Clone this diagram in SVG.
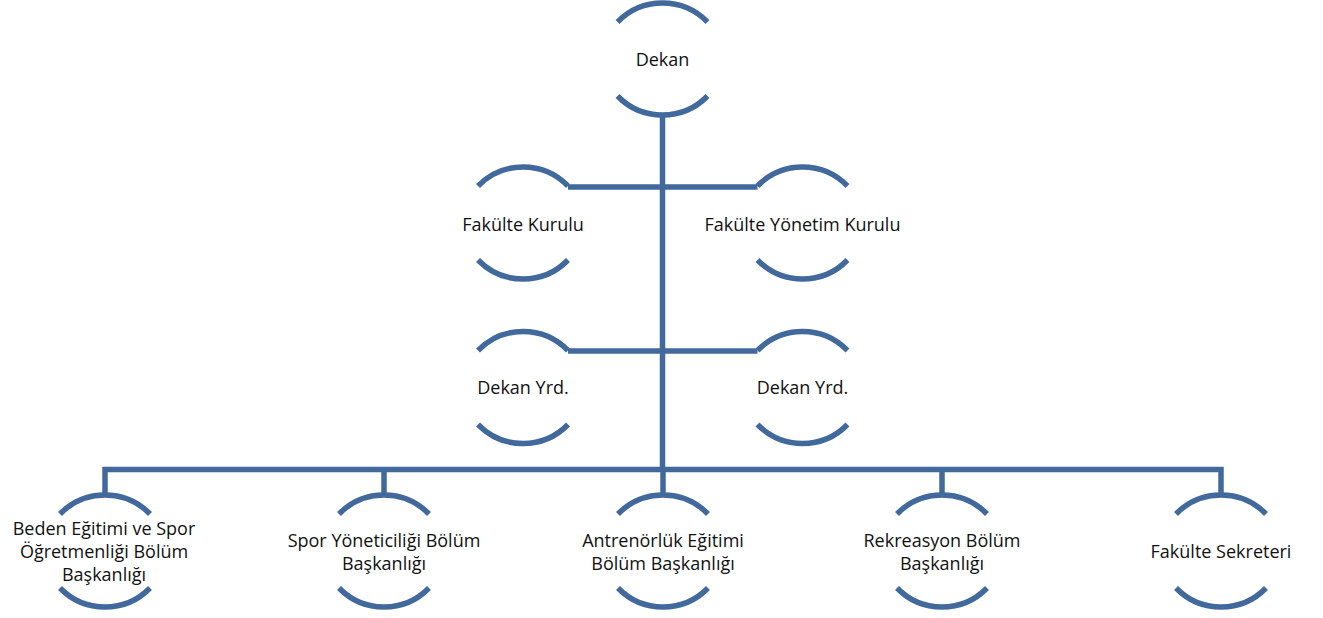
<svg xmlns="http://www.w3.org/2000/svg" width="1323" height="618" viewBox="0 0 1323 618">
<defs>
<style>
.arc{fill:none;stroke:#41699b;stroke-width:5.5}
.con{fill:none;stroke:#41699b;stroke-width:5.5}
text{font-family:"Open Sans","Liberation Sans",sans-serif;font-size:18px;fill:#111;text-anchor:middle}
</style>
<path id="brk" class="arc" d="M-45,-37 A62.8,62.8 0 0 1 45,-37 M-45,37 A62.8,62.8 0 0 0 45,37"/>
</defs>
<rect width="1323" height="618" fill="#fff"/>
<g id="connectors">
<path class="con" d="M662.5,114 V469"/>
<path class="con" d="M568,187 H757.5"/>
<path class="con" d="M568,351 H757.5"/>
<path class="con" d="M105,495 V469.5 H1221 V495"/>
<path class="con" d="M384,469 V495"/>
<path class="con" d="M663,469 V495"/>
<path class="con" d="M942,469 V495"/>
</g>
<g id="dekan"><use href="#brk" x="662.5" y="59"/><text x="662.5" y="66">Dekan</text></g>
<g id="fakulte-kurulu"><use href="#brk" x="523" y="223"/><text x="523" y="231">Fakülte Kurulu</text></g>
<g id="fakulte-yonetim-kurulu"><use href="#brk" x="802.5" y="223"/><text x="802.5" y="231">Fakülte Yönetim Kurulu</text></g>
<g id="dekan-yrd-1"><use href="#brk" x="523" y="387.5"/><text x="523" y="394">Dekan Yrd.</text></g>
<g id="dekan-yrd-2"><use href="#brk" x="802.5" y="387.5"/><text x="802.5" y="394">Dekan Yrd.</text></g>
<g id="beden"><use href="#brk" x="105" y="551"/><text x="104" y="534.5"><tspan x="104">Beden Eğitimi ve Spor</tspan><tspan x="104" dy="23">Öğretmenliği Bölüm</tspan><tspan x="104" dy="23">Başkanlığı</tspan></text></g>
<g id="spor"><use href="#brk" x="384" y="551"/><text x="384" y="547"><tspan x="384">Spor Yöneticiliği Bölüm</tspan><tspan x="384" dy="23">Başkanlığı</tspan></text></g>
<g id="antrenorluk"><use href="#brk" x="663" y="551"/><text x="663" y="547"><tspan x="663">Antrenörlük Eğitimi</tspan><tspan x="663" dy="23">Bölüm Başkanlığı</tspan></text></g>
<g id="rekreasyon"><use href="#brk" x="942" y="551"/><text x="942" y="547"><tspan x="942">Rekreasyon Bölüm</tspan><tspan x="942" dy="23">Başkanlığı</tspan></text></g>
<g id="sekreter"><use href="#brk" x="1221" y="551"/><text x="1221" y="558">Fakülte Sekreteri</text></g>
</svg>
